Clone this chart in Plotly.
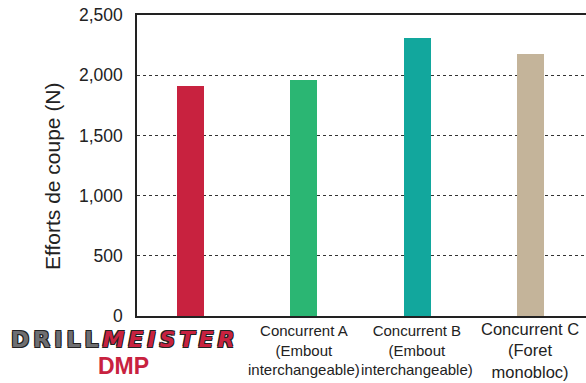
import plotly.graph_objects as go

# Cutting forces (N) per drill
categories = ["DMP", "Concurrent A", "Concurrent B", "Concurrent C"]
efforts = [1910, 1960, 2310, 2180]
bar_colors = ["#C8223F", "#2BB673", "#12A79D", "#C4B49A"]

label_lines = [
    None,
    ["Concurrent A", "(Embout", "interchangeable)"],
    ["Concurrent B", "(Embout", "interchangeable)"],
    ["Concurrent C", "(Foret", "monobloc)"],
]
label_sizes = [None, 15, 15, 16.5]

y_ticks = [0, 500, 1000, 1500, 2000, 2500]

W, H = 586, 383
ML, MR, MT, MB = 137, 0, 15, 67
PW = W - ML - MR
PH = H - MT - MB

FONT = "Liberation Sans, Arial, Helvetica, sans-serif"


def px_x(px):
    return (px - ML) / PW


def px_y(py):
    return (H - MB - py) / PH


fig = go.Figure(
    go.Bar(
        x=categories,
        y=efforts,
        marker=dict(color=bar_colors, line=dict(width=0)),
        width=0.238,
        hoverinfo="x+y",
    )
)

annotations = []
for cat, lines, size in zip(categories, label_lines, label_sizes):
    if lines is None:
        continue
    annotations.append(
        dict(
            x=cat, xref="x", y=0, yref="paper",
            yanchor="top", xanchor="center",
            yshift=-4 if size < 16 else -2,
            text="<br>".join(lines),
            showarrow=False,
            align="center",
            font=dict(family=FONT, size=size, color="#222222"),
        )
    )

# Brand mark under the first bar
annotations.append(
    dict(
        x=px_x(124), xref="paper", y=px_y(339.5), yref="paper",
        xanchor="center", yanchor="middle",
        text=(
            "<b><span style='color:#6E6F72;letter-spacing:4px'>DRILL</span>"
            "<i><span style='color:#C8223F;letter-spacing:4px'>MEISTER</span></i></b>"
        ),
        showarrow=False,
        font=dict(family="DejaVu Sans, sans-serif", size=22,
                  shadow="1px 1px 0 #222, -1px -1px 0 #222, 1px -1px 0 #222, -1px 1px 0 #222"),
    )
)
annotations.append(
    dict(
        x=px_x(123.5), xref="paper", y=px_y(366), yref="paper",
        xanchor="center", yanchor="middle",
        text="<b>DMP</b>",
        showarrow=False,
        font=dict(family=FONT, size=23, color="#C8223F"),
    )
)

# Y axis title
annotations.append(
    dict(
        x=px_x(52), xref="paper", y=px_y(176), yref="paper",
        xanchor="center", yanchor="middle",
        text="Efforts de coupe (N)",
        textangle=-90,
        showarrow=False,
        font=dict(family=FONT, size=21, color="#222222"),
    )
)

fig.update_layout(
    width=W, height=H,
    margin=dict(l=ML, r=MR, t=MT, b=MB, pad=0),
    paper_bgcolor="white",
    plot_bgcolor="white",
    showlegend=False,
    annotations=annotations,
    bargap=0,
    xaxis=dict(
        type="category",
        range=[-0.47, 3.49],
        showticklabels=False,
        ticks="",
        showgrid=False,
        showline=True, mirror=True,
        linecolor="#222222", linewidth=1.5,
        zeroline=False,
    ),
    yaxis=dict(
        range=[0, 2500],
        tickvals=y_ticks,
        tickformat=",",
        ticks="",
        ticklabelstandoff=9,
        tickfont=dict(family=FONT, size=17.5, color="#222222"),
        showgrid=True,
        gridcolor="#333333", gridwidth=1, griddash="3px,3px",
        showline=True, mirror=False,
        linecolor="#222222", linewidth=1.5,
        zeroline=False,
    ),
)

fig.write_html("out.html")
